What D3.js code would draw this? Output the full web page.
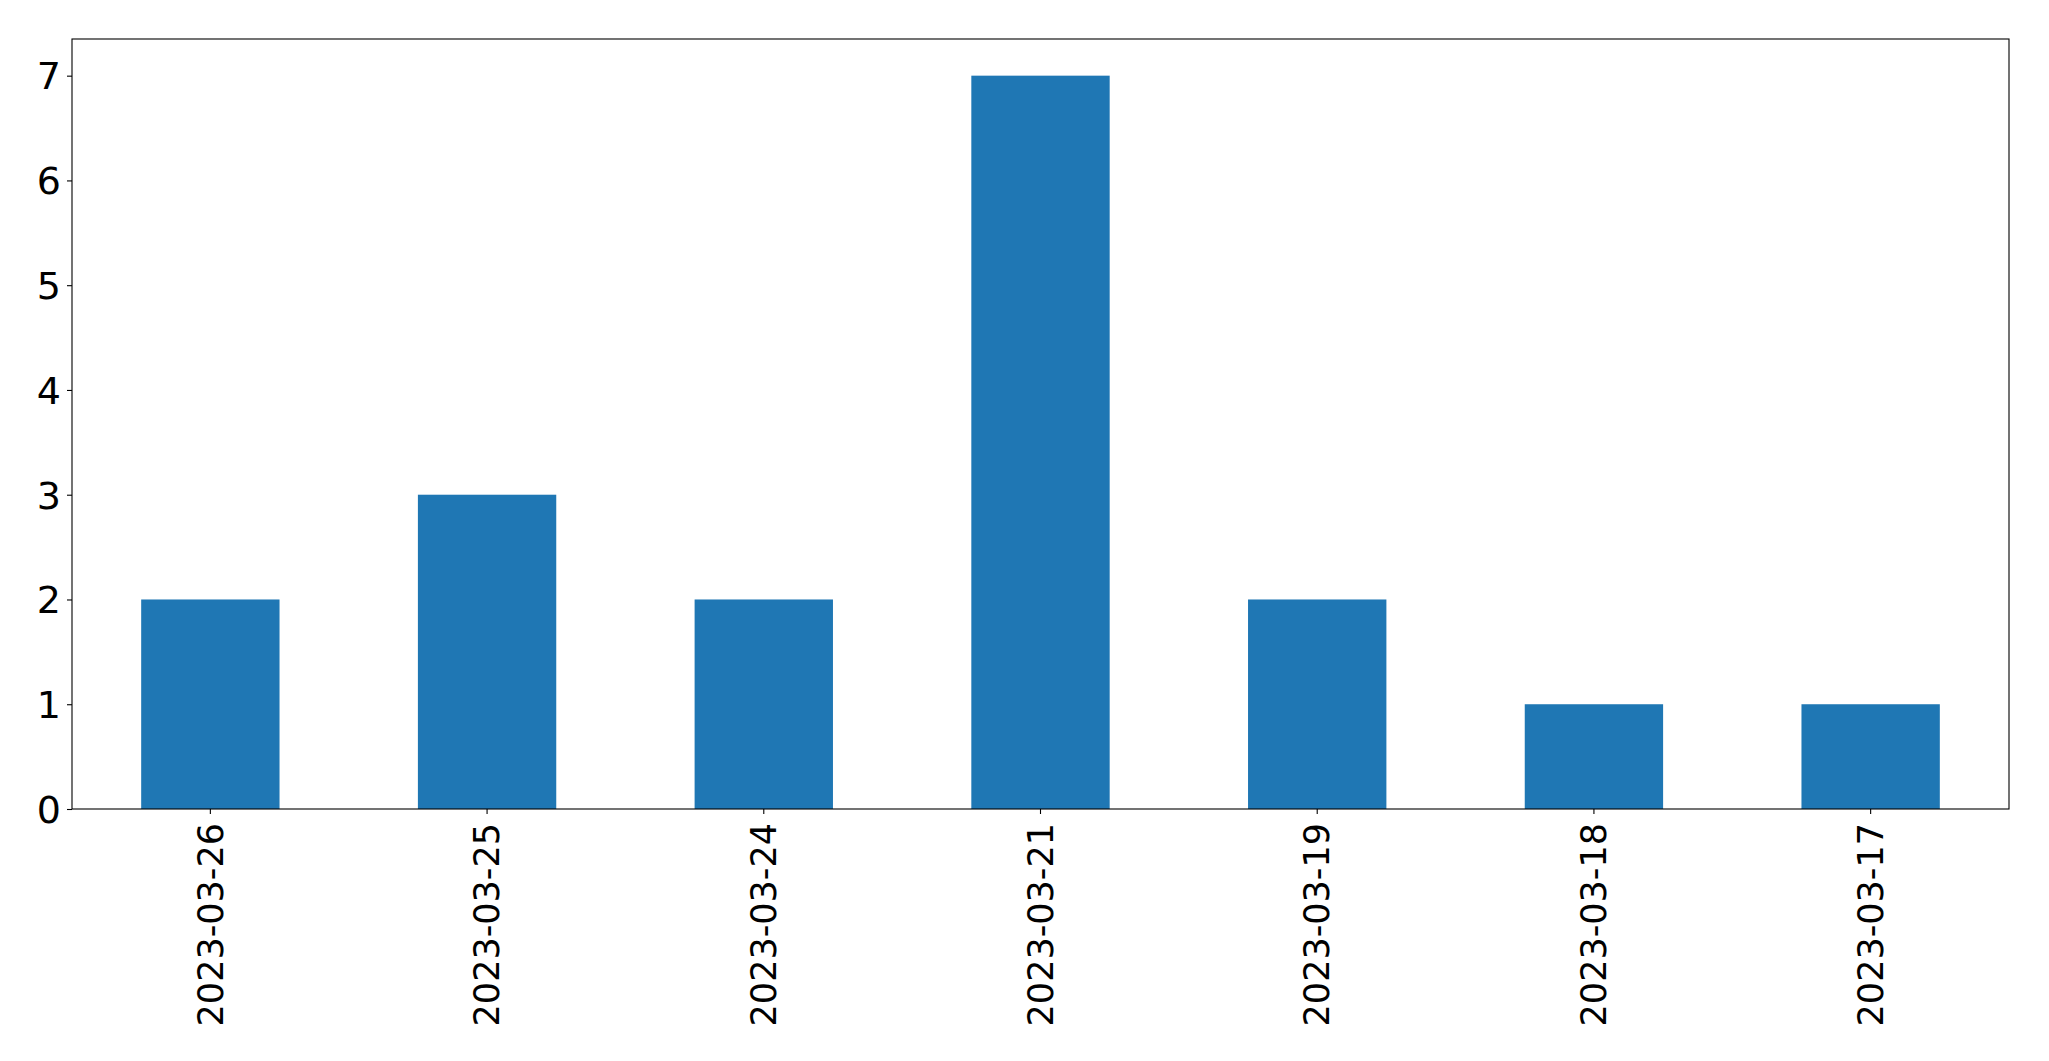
<!DOCTYPE html>
<html><head><meta charset="utf-8">
<script src="https://cdn.jsdelivr.net/npm/d3@7"></script>
<style>body{margin:0;background:#fff;} svg{display:block;}</style>
</head><body>
<script>
const categories = ["2023-03-26","2023-03-25","2023-03-24","2023-03-21","2023-03-19","2023-03-18","2023-03-17"];
const values = [2,3,2,7,2,1,1];
const yTicks = [0,1,2,3,4,5,6,7];

const W = 2049, H = 1061;
const m = {left:72, right:W-2009, top:39, bottom:H-809};
const svg = d3.select("body").append("svg").attr("width",W).attr("height",H);
const x = d3.scaleBand().domain(categories).range([m.left, W-m.right]).paddingInner(0.5).paddingOuter(0.25);
const y = d3.scaleLinear().domain([0, 7.35]).range([H-m.bottom, m.top]);

svg.append("g").selectAll("rect").data(values).join("rect")
  .attr("x",(d,i)=>x(categories[i])).attr("width",x.bandwidth())
  .attr("y",d=>y(d)).attr("height",d=>y(0)-y(d)).attr("fill","#1f77b4");

const ya = svg.append("g").attr("transform",`translate(${m.left},0)`)
  .call(d3.axisLeft(y).tickValues(yTicks).tickFormat(d3.format("d")).tickSize(5).tickPadding(6));
ya.select(".domain").remove();
ya.selectAll("text").attr("font-family","DejaVu Sans").attr("font-size",38).attr("fill","#000").attr("dy","0.35em");
ya.selectAll("line").attr("stroke","#000").attr("stroke-width",1.1);

const xa = svg.append("g").attr("transform",`translate(0,${H-m.bottom})`)
  .call(d3.axisBottom(x).tickSize(5).tickPadding(10));
xa.select(".domain").remove();
xa.selectAll("line").attr("stroke","#000").attr("stroke-width",1.1);
xa.selectAll("text").attr("font-family","DejaVu Sans").attr("font-size",35).attr("fill","#000")
  .attr("transform","rotate(-90)").attr("text-anchor","end").attr("x",-14).attr("y",0).attr("dy","0.35em");

svg.append("rect").attr("x",m.left).attr("y",m.top).attr("width",W-m.right-m.left).attr("height",H-m.bottom-m.top)
  .attr("fill","none").attr("stroke","#000").attr("stroke-width",1.1);
</script>
</body></html>
